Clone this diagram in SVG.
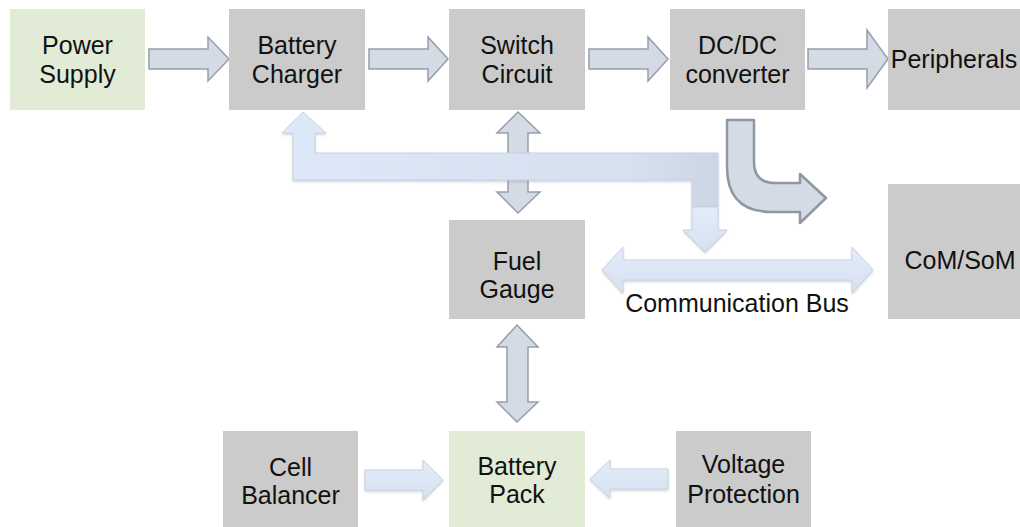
<svg xmlns="http://www.w3.org/2000/svg" width="1020" height="527" viewBox="0 0 1020 527">
<defs>
<style>
.node{fill:#cbcbcb}
.green{fill:#e1ebd6}
.t{font-family:"Liberation Sans",Arial,Helvetica,sans-serif;font-size:25px;fill:#111;text-anchor:middle}
.a1{fill:#d4dbe5;stroke:#959ea9;stroke-width:1.5;stroke-linejoin:miter}
.a2{fill:url(#gBlue);stroke:#c9d3e0;stroke-width:1;filter:url(#sh)}
.bent{fill:#d4dbe5;stroke:#8e97a2;stroke-width:2.5;stroke-linejoin:round}
</style>
<linearGradient id="gBlue" x1="0" y1="0" x2="0" y2="1">
<stop offset="0" stop-color="#e3ecf9"/>
<stop offset="1" stop-color="#d6e1f1"/>
</linearGradient>
<linearGradient id="gL" x1="0" y1="0" x2="1" y2="0">
<stop offset="0" stop-color="#dde8f8"/>
<stop offset="0.8" stop-color="#d6e0ef"/>
<stop offset="1" stop-color="#cbd5e3"/>
</linearGradient>
<filter id="sh" x="-10%" y="-10%" width="120%" height="130%">
<feDropShadow dx="0" dy="1.5" stdDeviation="1" flood-color="#7a8494" flood-opacity="0.35"/>
</filter>
</defs>

<g id="connectors">
<path class="a1" d="M149,49 L208,49 L208,37 L229,59 L208,81 L208,69 L149,69 Z"/>
<path class="a1" d="M369,49 L428,49 L428,37 L448,59 L428,81 L428,69 L369,69 Z"/>
<path class="a1" d="M589,49 L648,49 L648,37 L668,59 L648,81 L648,69 L589,69 Z"/>
<path class="a1" d="M808,49 L867,49 L867,30 L888,59 L867,88 L867,69 L808,69 Z"/>
<path class="a1" d="M518,112 L540,133 L528,133 L528,192 L540,192 L518,213 L497,192 L508,192 L508,133 L497,133 Z"/>
<path class="a1" d="M517,325 L538,347 L528,347 L528,402 L538,402 L517,422 L497,402 L507,402 L507,347 L497,347 Z"/>
<path class="bent" d="M727,120 L754,120 L754,162 Q754,183 775,183 L800,183 L800,174 L826,198 L800,223 L800,212 L772,212 Q727,212 727,167 Z"/>
<path d="M303,112 L326,133 L315,133 L315,153 L718,153 L718,207 L692,207 L692,180 L293,180 L293,133 L282,133 Z" fill="url(#gL)" stroke="#c9d3e0" stroke-width="1" filter="url(#sh)"/>
<path class="a2" d="M692,207 L718,207 L718,230 L727,230 L705,252 L683,230 L692,230 Z"/>
<path class="a2" d="M602,270 L623,247 L623,260 L852,260 L852,247 L873,270 L852,293 L852,280 L623,280 L623,293 Z"/>
<path class="a2" d="M365,470 L423,470 L423,460 L443,480 L423,500 L423,490 L365,490 Z"/>
<path class="a2" d="M590,479 L610,460 L610,469 L668,469 L668,489 L610,489 L610,498 Z"/>
<text class="t" x="737" y="312">Communication Bus</text>
</g>

<g id="power-supply">
<rect class="green" x="10" y="9" width="135" height="101"/>
<text class="t" x="77.5" y="54">Power</text>
<text class="t" x="77.5" y="83">Supply</text>
</g>
<g id="battery-charger">
<rect class="node" x="229" y="9" width="136" height="101"/>
<text class="t" x="297" y="54">Battery</text>
<text class="t" x="297" y="83">Charger</text>
</g>
<g id="switch-circuit">
<rect class="node" x="449" y="9" width="136" height="101"/>
<text class="t" x="517" y="54">Switch</text>
<text class="t" x="517" y="83">Circuit</text>
</g>
<g id="dcdc-converter">
<rect class="node" x="670" y="9" width="135" height="101"/>
<text class="t" x="737.5" y="54">DC/DC</text>
<text class="t" x="737.5" y="83">converter</text>
</g>
<g id="peripherals">
<rect class="node" x="888" y="9" width="140" height="101"/>
<text class="t" x="954" y="68">Peripherals</text>
</g>
<g id="com-som">
<rect class="node" x="888" y="184" width="140" height="135"/>
<text class="t" x="960" y="269">CoM/SoM</text>
</g>
<g id="fuel-gauge">
<rect class="node" x="449" y="220" width="136" height="99"/>
<text class="t" x="517" y="270">Fuel</text>
<text class="t" x="517" y="298">Gauge</text>
</g>
<g id="cell-balancer">
<rect class="node" x="223" y="431" width="135" height="96"/>
<text class="t" x="290.5" y="476">Cell</text>
<text class="t" x="290.5" y="504">Balancer</text>
</g>
<g id="battery-pack">
<rect class="green" x="449" y="431" width="136" height="96"/>
<text class="t" x="517" y="475">Battery</text>
<text class="t" x="517" y="503">Pack</text>
</g>
<g id="voltage-protection">
<rect class="node" x="676" y="431" width="135" height="96"/>
<text class="t" x="743.5" y="473">Voltage</text>
<text class="t" x="743.5" y="503">Protection</text>
</g>
</svg>
